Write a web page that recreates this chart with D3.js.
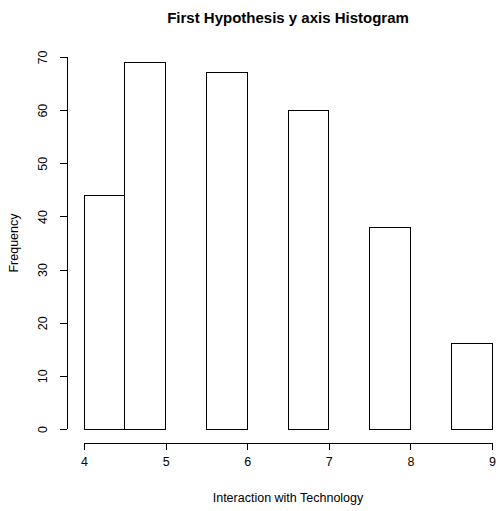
<!DOCTYPE html>
<html>
<head>
<meta charset="utf-8">
<script src="https://cdn.jsdelivr.net/npm/d3@7"></script>
<style>
  html, body { margin: 0; padding: 0; background: #fff; }
  svg { display: block; font-family: "Liberation Sans", Arial, sans-serif; }
</style>
</head>
<body>
<script>
// Histogram bins (left edge, right edge) and counts
const binStarts = [4, 4.5, 5, 5.5, 6, 6.5, 7, 7.5, 8, 8.5];
const binEnds   = [4.5, 5, 5.5, 6, 6.5, 7, 7.5, 8, 8.5, 9];
const counts    = [44, 69, 0, 67, 0, 60, 0, 38, 0, 16];
const xTicks = [4, 5, 6, 7, 8, 9];
const yTicks = [0, 10, 20, 30, 40, 50, 60, 70];

const W = 498, H = 511;
const FONT = "Liberation Sans, Arial, sans-serif";
const svg = d3.select("body").append("svg").attr("width", W).attr("height", H);

const x = d3.scaleLinear().domain([4, 9]).range([84, 492]);
const y = d3.scaleLinear().domain([0, 70]).range([429, 57]);

// Bars
svg.append("g").selectAll("rect")
  .data(counts)
  .join("rect")
  .attr("x", (d, i) => x(binStarts[i]))
  .attr("width", (d, i) => x(binEnds[i]) - x(binStarts[i]))
  .attr("y", d => y(d))
  .attr("height", d => y(0) - y(d))
  .attr("fill", "#fff")
  .attr("stroke", "#000")
  .attr("stroke-width", 1)
  .attr("shape-rendering", "crispEdges");

// X axis
const xAxis = svg.append("g")
  .attr("transform", "translate(0,443)")
  .call(d3.axisBottom(x).tickValues(xTicks).tickSize(7).tickPadding(7).tickFormat(d3.format("d")));
xAxis.selectAll("path, line").attr("stroke", "#000").attr("shape-rendering", "crispEdges");
xAxis.select(".domain").attr("d", `M${x(4)},0H${x(9)}`);
xAxis.selectAll("text").attr("font-size", 12.5).attr("fill", "#000").attr("font-family", FONT);

// Y axis
const yAxis = svg.append("g")
  .attr("transform", "translate(67,0)")
  .call(d3.axisLeft(y).tickValues(yTicks).tickSize(7).tickFormat(d3.format("d")));
yAxis.selectAll("path, line").attr("stroke", "#000").attr("shape-rendering", "crispEdges");
yAxis.select(".domain").attr("d", `M0,${y(0)}V${y(70)}`);
yAxis.selectAll("text")
  .attr("font-size", 12.5).attr("fill", "#000").attr("font-family", FONT)
  .attr("x", null).attr("dy", null)
  .attr("text-anchor", "middle")
  .attr("transform", "translate(-20,0) rotate(-90)");

// Title
svg.append("text")
  .attr("x", 288).attr("y", 23)
  .attr("text-anchor", "middle")
  .attr("font-size", 15).attr("font-weight", "bold")
  .text("First Hypothesis y axis Histogram");

// Axis labels
svg.append("text")
  .attr("x", 288).attr("y", 502)
  .attr("text-anchor", "middle")
  .attr("font-size", 12.5)
  .text("Interaction with Technology");

svg.append("text")
  .attr("transform", `translate(18,${(y(0) + y(70)) / 2}) rotate(-90)`)
  .attr("text-anchor", "middle")
  .attr("font-size", 12.5)
  .text("Frequency");
</script>
</body>
</html>
